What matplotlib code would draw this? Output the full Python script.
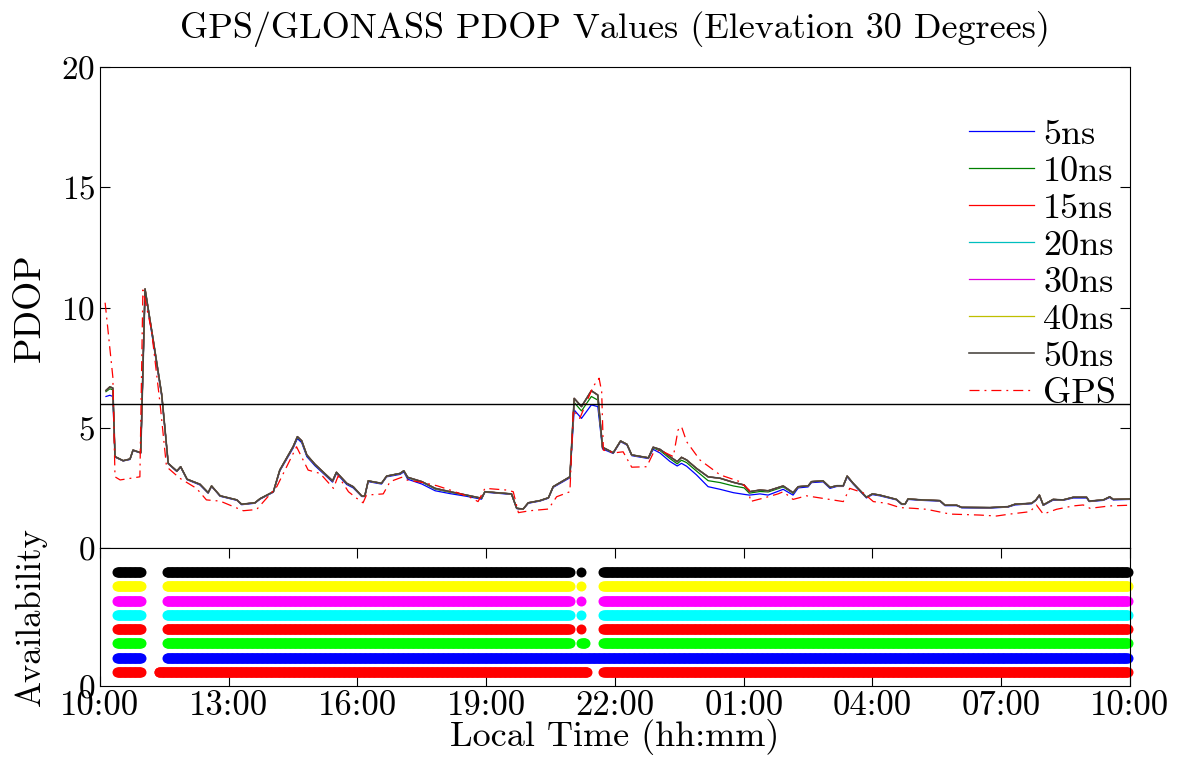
import numpy as np
import matplotlib
matplotlib.use("Agg")
import matplotlib.pyplot as plt

plt.rcParams['font.family'] = 'cmr10'
plt.rcParams['mathtext.fontset'] = 'cm'
plt.rcParams['axes.formatter.use_mathtext'] = True
plt.rcParams['axes.unicode_minus'] = False

# hours after 10:00 local time
t_glo = [0.14, 0.23, 0.30, 0.35, 0.54, 0.70, 0.77, 0.95, 1.05, 1.24, 1.44, 1.59, 1.79, 1.88,
         2.03, 2.33, 2.52, 2.60, 2.80, 3.19, 3.30, 3.61, 3.73, 4.04, 4.19, 4.50, 4.60, 4.70,
         4.82, 5.01, 5.42, 5.51, 5.75, 5.90, 6.10, 6.17, 6.25, 6.56, 6.68, 6.99, 7.08, 7.17,
         7.50, 7.81, 8.16, 8.54, 8.89, 8.97, 9.44, 9.59, 9.71, 9.86, 9.98, 10.25, 10.45, 10.56,
         10.95, 11.05, 11.22, 11.45, 11.60, 11.71, 11.96, 12.13, 12.28, 12.39, 12.78, 12.89,
         13.05, 13.28, 13.45, 13.55, 13.67, 13.90, 14.17, 14.45, 14.76, 15.01, 15.13, 15.38,
         15.57, 15.92, 16.15, 16.27, 16.50, 16.58, 16.85, 17.01, 17.17, 17.32, 17.41, 17.55,
         17.86, 18.00, 18.17, 18.56, 18.68, 18.76, 18.83, 19.15, 19.57, 19.69, 19.96, 20.08,
         20.74, 21.16, 21.32, 21.71, 21.81, 21.89, 21.98, 22.21, 22.44, 22.68, 22.99, 23.05,
         23.38, 23.53, 23.61, 24.00]

pdop_50 = [6.55, 6.70, 6.65, 3.80, 3.63, 3.70, 4.07, 3.96, 10.77, 8.65, 6.36, 3.52, 3.20, 3.38,
           2.86, 2.65, 2.30, 2.58, 2.17, 2.00, 1.82, 1.88, 2.05, 2.34, 3.24, 4.21, 4.63, 4.46,
           3.87, 3.48, 2.79, 3.15, 2.69, 2.55, 2.16, 2.16, 2.79, 2.69, 2.99, 3.10, 3.21, 2.94,
           2.76, 2.48, 2.34, 2.20, 2.07, 2.34, 2.27, 2.25, 1.65, 1.62, 1.88, 1.97, 2.09, 2.55,
           2.96, 6.22, 5.88, 6.54, 6.36, 4.19, 3.96, 4.45, 4.31, 3.87, 3.75, 4.19,
           4.10, 3.80, 3.59, 3.77, 3.66, 3.31, 2.96, 2.90, 2.73, 2.62, 2.34, 2.41,
           2.38, 2.58, 2.30, 2.55, 2.58, 2.76, 2.79, 2.52, 2.59, 2.59, 2.99, 2.69,
           2.11, 2.25, 2.20, 2.02, 1.83, 1.83, 2.04, 2.00, 1.97, 1.78, 1.78, 1.69,
           1.68, 1.72, 1.82, 1.86, 2.00, 2.20, 1.79, 2.02, 2.00, 2.11, 2.11, 1.95,
           2.00, 2.13, 2.02, 2.04]

pdop_10 = [6.50, 6.62, 6.58, 3.80, 3.63, 3.70, 4.07, 3.96, 10.77, 8.65, 6.36, 3.52, 3.20, 3.38,
           2.86, 2.65, 2.30, 2.58, 2.17, 2.00, 1.82, 1.88, 2.05, 2.34, 3.24, 4.21, 4.60, 4.44,
           3.85, 3.46, 2.78, 3.14, 2.68, 2.54, 2.16, 2.16, 2.79, 2.69, 2.99, 3.10, 3.21, 2.92,
           2.74, 2.45, 2.32, 2.19, 2.06, 2.34, 2.27, 2.25, 1.65, 1.62, 1.88, 1.97, 2.09, 2.55,
           2.96, 6.05, 5.70, 6.30, 6.15, 4.17, 3.96, 4.45, 4.31, 3.87, 3.75, 4.16,
           4.05, 3.72, 3.50, 3.65, 3.55, 3.20, 2.80, 2.72, 2.58, 2.50, 2.28, 2.35,
           2.33, 2.54, 2.27, 2.55, 2.58, 2.76, 2.79, 2.52, 2.59, 2.59, 2.99, 2.69,
           2.11, 2.25, 2.20, 2.02, 1.83, 1.83, 2.04, 2.00, 1.97, 1.78, 1.78, 1.69,
           1.68, 1.72, 1.82, 1.86, 2.00, 2.20, 1.79, 2.02, 2.00, 2.11, 2.11, 1.95,
           2.00, 2.13, 2.02, 2.04]

pdop_5 = [6.30, 6.35, 6.30, 3.78, 3.62, 3.68, 4.05, 3.95, 10.70, 8.55, 6.30, 3.50, 3.18, 3.36,
          2.84, 2.62, 2.28, 2.56, 2.15, 1.98, 1.80, 1.86, 2.03, 2.32, 3.20, 4.15, 4.55, 4.38,
          3.80, 3.42, 2.74, 3.10, 2.64, 2.50, 2.14, 2.14, 2.76, 2.66, 2.96, 3.06, 3.16, 2.86,
          2.66, 2.38, 2.26, 2.15, 2.03, 2.32, 2.25, 2.23, 1.64, 1.61, 1.86, 1.95, 2.07, 2.52,
          2.92, 5.74, 5.39, 5.95, 5.88, 4.12, 3.93, 4.42, 4.28, 3.84, 3.72, 4.10,
          3.95, 3.60, 3.41, 3.52, 3.40, 3.04, 2.55, 2.44, 2.30, 2.23, 2.20, 2.25,
          2.20, 2.44, 2.20, 2.50, 2.54, 2.72, 2.75, 2.48, 2.56, 2.56, 2.96, 2.66,
          2.08, 2.22, 2.17, 2.00, 1.81, 1.81, 2.02, 1.98, 1.95, 1.76, 1.76, 1.67,
          1.66, 1.70, 1.79, 1.84, 1.98, 2.17, 1.77, 1.99, 1.98, 2.08, 2.08, 1.93,
          1.98, 2.10, 2.00, 2.02]

t_gps = [0.12, 0.30, 0.35, 0.47, 0.93, 1.00, 1.20, 1.40, 1.55, 1.86, 2.25, 2.48, 2.80, 3.34,
         3.65, 4.12, 4.58, 4.85, 5.13, 5.44, 5.55, 5.79, 5.98, 6.13, 6.21, 6.60, 6.76, 7.03,
         7.14, 7.53, 7.85, 8.16, 8.62, 8.81, 8.97, 9.48, 9.63, 9.75, 10.02, 10.45, 10.64, 10.95,
         11.03, 11.18, 11.49, 11.63, 11.69, 11.73, 12.00, 12.19, 12.39, 12.74, 12.89, 13.05,
         13.36, 13.47, 13.55, 13.67, 13.98, 14.45, 14.91, 15.13, 15.15, 15.45, 15.80, 15.92,
         16.15, 16.46, 16.93, 17.32, 17.47, 17.78, 18.02, 18.33, 18.64, 18.95, 19.26, 19.81,
         20.50, 20.89, 21.20, 21.67, 21.82, 21.98, 22.29, 22.68, 22.91, 23.07, 23.53, 24.00]

pdop_gps = [10.2, 7.10, 2.96, 2.83, 2.96, 10.73, 9.06, 6.00, 3.38, 2.90, 2.48, 2.00, 1.95, 1.55,
            1.60, 2.55, 4.21, 3.24, 3.10, 2.48, 3.00, 2.34, 2.07, 1.88, 2.20, 2.25, 2.76, 2.94,
            2.83, 2.72, 2.59, 2.41, 2.11, 1.93, 2.48, 2.41, 2.34, 1.47, 1.55, 1.62, 2.13, 2.34,
            5.74, 5.39, 6.71, 7.06, 6.50, 4.07, 3.96, 4.00, 3.36, 3.38, 3.94, 4.07,
            3.80, 4.91, 5.05, 4.42, 3.66, 3.04, 2.76, 2.41, 1.93, 2.07, 2.25, 2.34,
            2.02, 2.17, 2.04, 1.93, 2.48, 2.30, 1.93, 1.86, 1.68, 1.65, 1.61, 1.41,
            1.37, 1.33, 1.41, 1.51, 1.79, 1.41, 1.61, 1.75, 1.79, 1.65, 1.75, 1.78]

# availability: (start, end) hours of each visible run, rows from bottom to top
avail = {
    'GPS':  [(0.40, 0.96), (1.37, 11.36), (11.73, 23.95)],
    '5ns':  [(0.40, 0.96), (1.56, 23.95)],
    '10ns': [(0.40, 0.96), (1.56, 10.95), (11.22, 11.31), (11.73, 23.95)],
    '15ns': [(0.40, 0.96), (1.56, 10.95), (11.22, 11.22), (11.73, 23.95)],
    '20ns': [(0.40, 0.96), (1.56, 10.95), (11.22, 11.22), (11.73, 23.95)],
    '30ns': [(0.40, 0.96), (1.56, 10.95), (11.22, 11.22), (11.73, 23.95)],
    '40ns': [(0.40, 0.96), (1.56, 10.95), (11.22, 11.22), (11.73, 23.95)],
    '50ns': [(0.40, 0.96), (1.56, 10.95), (11.22, 11.22), (11.73, 23.95)],
}
avail_colors = ['#ff0000', '#0000ff', '#00ff00', '#ff0000', '#00ffff', '#ff00ff', '#ffff00', '#000000']

tick_hours = [0, 3, 6, 9, 12, 15, 18, 21, 24]
tick_labels = ['10:00', '13:00', '16:00', '19:00', '22:00', '01:00', '04:00', '07:00', '10:00']

fig = plt.figure(figsize=(11.79, 7.59), dpi=100)
ax = fig.add_axes([0.0848, 0.278, 0.8736, 0.6337])
ax2 = fig.add_axes([0.0848, 0.0962, 0.8736, 0.1818])

lw = 0.9
ax.plot(t_glo, pdop_5, color='#0000ff', lw=lw, label='5ns')
ax.plot(t_glo, pdop_10, color='#008000', lw=lw, label='10ns')
ax.plot(t_glo, pdop_50, color='#ff0000', lw=lw, label='15ns')
ax.plot(t_glo, pdop_50, color='#00bfbf', lw=lw, label='20ns')
ax.plot(t_glo, pdop_50, color='#e000e0', lw=lw, label='30ns')
ax.plot(t_glo, pdop_50, color='#bfbf00', lw=lw, label='40ns')
ax.plot(t_glo, pdop_50, color='#4a4540', lw=lw * 1.3, label='50ns')
ax.plot(t_gps, pdop_gps, color='#ff0000', lw=lw, ls=(0, (8, 4, 1.5, 4)), label='GPS')
ax.axhline(6, color='black', lw=1)

ax.set_xlim(0, 24)
ax.set_ylim(0, 20)
ax.set_yticks([0, 5, 10, 15, 20])
ax.set_xticks([])
ax.tick_params(axis='y', direction='in', right=True, length=7, labelsize=24)
ax.set_ylabel('PDOP', fontsize=27)
ax.yaxis.set_label_coords(-0.052, 0.5)
ax.set_title('GPS/GLONASS PDOP Values (Elevation 30 Degrees)', fontsize=26, pad=21)
ax.legend(loc='upper right', bbox_to_anchor=(1.004, 0.93), frameon=False, fontsize=26,
          handlelength=1.8, handletextpad=0.25, labelspacing=0.13, borderpad=0)

step = 1 / 60
for i, (name, runs) in enumerate(avail.items()):
    pts = np.concatenate([np.arange(a, b + 1e-6, step) for a, b in runs])
    ax2.plot(pts, np.full(len(pts), i + 1), 'o', color=avail_colors[i],
             ms=7.2, mew=0, clip_on=False)

ax2.set_xlim(0, 24)
ax2.set_ylim(0, 9.7)
ax2.set_yticks([0])
ax2.set_xticks(tick_hours)
ax2.set_xticklabels(tick_labels)
ax2.tick_params(axis='x', direction='in', top=True, length=7, labelsize=25, pad=3)
ax2.tick_params(axis='y', direction='in', length=0, labelsize=24)
ax2.set_ylabel('Availability', fontsize=25)
ax2.yaxis.set_label_coords(-0.052, 0.5)
ax2.set_xlabel('Local Time (hh:mm)', fontsize=26, labelpad=-2)

fig.savefig('out.png', dpi=100)
